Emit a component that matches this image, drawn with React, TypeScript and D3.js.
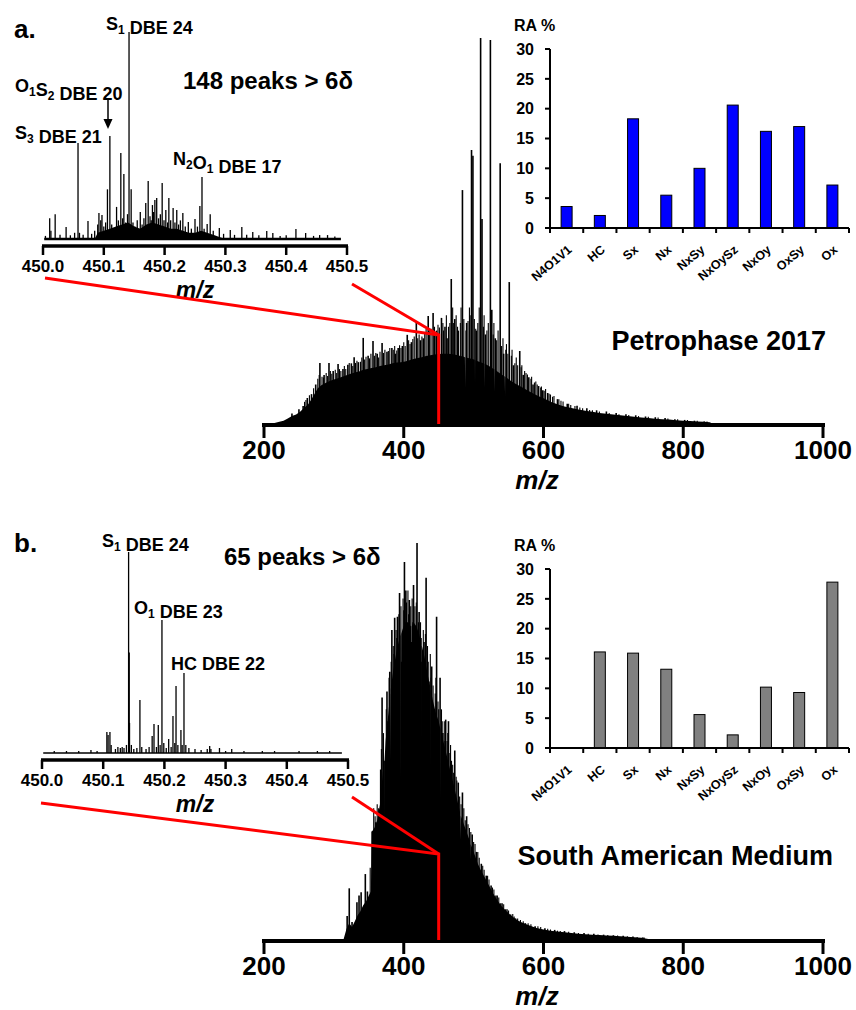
import React from 'react';
import * as d3 from 'd3';

const FONT = "'Liberation Sans', Arial, Helvetica, sans-serif";

// ---- compound-class bar charts (relative abundance, %) ----
const CLASSES = ['N4O1V1', 'HC', 'Sx', 'Nx', 'NxSy', 'NxOySz', 'NxOy', 'OxSy', 'Ox'];
const RA_PETROPHASE = [3.6, 2.1, 18.3, 5.5, 10.0, 20.6, 16.2, 17.0, 7.2];
const RA_SOUTH_AM = [0, 16.1, 15.9, 13.2, 5.6, 2.2, 10.2, 9.3, 27.8];
const RA_TICKS = [0, 5, 10, 15, 20, 25, 30];

// ---- axis ticks ----
const MZ_TICKS = [200, 400, 600, 800, 1000];
const NARROW_TICKS = [450.0, 450.1, 450.2, 450.3, 450.4, 450.5];

// ---- broadband spectrum, Petrophase 2017: [m/z, relative intensity] ----
const ENV_PETRO: [number, number][] = [
  [215, 0], [222, 0.3], [228, 0.6], [234, 1.2], [240, 1.8], [246, 2.2], [252, 3.0], [258, 4.0],
  [263, 4.8], [268, 6.2], [272, 7.5], [277, 9.0], [282, 9.8], [288, 10.4], [294, 10.9], [300, 11.3],
  [306, 11.6], [312, 12.0], [318, 12.4], [324, 12.8], [330, 13.1], [336, 13.4], [342, 13.8],
  [348, 14.0], [354, 14.3], [360, 14.5], [366, 14.8], [372, 15.0], [378, 15.2], [384, 15.5],
  [390, 15.7], [396, 15.8], [402, 16.0], [408, 16.3], [414, 16.6], [420, 16.9], [426, 17.1],
  [432, 17.4], [438, 17.6], [444, 17.8], [450, 17.9], [456, 18.0], [462, 18.0], [468, 17.9],
  [474, 17.7], [480, 17.5], [486, 17.2], [487.5, 17.1], [488, 9], [488.5, 17.0], [492, 16.9],
  [498, 16.6], [501.5, 16.4], [502, 10], [502.5, 16.3], [504, 16.2], [510, 15.8], [515.5, 15.4],
  [516, 9], [516.5, 15.3], [522, 14.8], [528, 14.1], [529.5, 14.0], [530, 8], [530.5, 13.9],
  [534, 13.4], [540, 12.6], [544.5, 12.1], [545, 7], [545.5, 12.0], [552, 11.1],
  [558, 10.4], [564, 9.8], [570, 9.2], [576, 8.6], [582, 8.0], [588, 7.4], [594, 6.9], [600, 6.4],
  [606, 5.9], [612, 5.4], [618, 5.0], [624, 4.6], [630, 4.3], [640, 3.9], [650, 3.5], [660, 3.2],
  [670, 2.9], [680, 2.6], [690, 2.4], [700, 2.2], [710, 2.0], [720, 1.8], [730, 1.6], [740, 1.4],
  [750, 1.3], [760, 1.1], [770, 1.0], [780, 0.9], [790, 0.7], [800, 0.6], [810, 0.5], [820, 0.4],
  [830, 0.3], [838, 0.2], [840, 0],
];
const PEAKS_PETRO: [number, number][] = [
  [240, 2.5], [250, 3.6], [256, 4.4], [262, 6.5], [268, 7.5], [274, 10], [280, 15.6], [286, 12.5],
  [293, 15.6], [299, 13.5], [306, 15.3], [313, 14], [320, 15.1], [325, 15.5], [329, 17.1], [335, 15.8],
  [342, 22.1], [349, 17.5], [356, 21.3], [362, 18], [369, 20.8], [376, 18.5], [383, 19.5], [388, 18],
  [392, 19.5], [398, 20], [405, 22.9], [411, 21], [418, 26.2], [424, 21.5], [428, 22], [435, 27.8],
  [442, 28.6], [447, 24], [454, 27.3], [459, 25], [462, 22], [468, 37.4], [473, 27], [478, 24],
  [484, 60.5], [490, 26], [497, 70.9], [499, 69.4], [504, 24], [510, 100], [512, 53], [517, 23],
  [524, 99.5], [526, 29.4], [531, 22], [538, 67.5], [543, 18], [551, 36.6], [557, 15], [566, 18.7],
  [571, 12.5], [579, 11.9], [585, 10], [593, 9.6], [599, 8.5], [606, 7.8], [620, 6.2], [634, 5],
  [648, 4.5], [662, 3.8], [676, 3.3], [690, 3], [704, 2.6], [718, 2.3], [732, 2], [746, 1.7],
  [760, 1.5], [774, 1.3], [788, 1.0], [802, 0.8], [816, 0.6], [830, 0.4],
];
// smaller peaks forming the ragged top of the Petrophase envelope
const MINOR_PETRO: [number, number][] = [
  [258, 5.5], [260, 6], [265, 7.2], [271, 9], [277, 11.5], [279, 12.5], [283, 12], [285, 11.8],
  [289, 13], [291, 12.2], [295, 13.5], [297, 12.8], [302, 13.8], [304, 13], [308, 14], [310, 13.5],
  [315, 14.8], [317, 14], [322, 15.6], [327, 14.8], [331, 15.6], [333, 16.2], [338, 15.9], [340, 17],
  [344, 16.5], [346, 17.2], [351, 16.8], [353, 18], [358, 17.5], [360, 18.2], [364, 17], [366, 18.5],
  [371, 18.2], [373, 19], [378, 18.7], [380, 19.5], [385, 19], [387, 20], [390, 18.8], [394, 20.2],
  [396, 19.5], [400, 21], [402, 20], [407, 21.5], [409, 20.5], [413, 21.8], [415, 22.5], [420, 22],
  [422, 23], [426, 22.5], [430, 23.5], [432, 24.5], [437, 23.8], [439, 24.5], [444, 25], [446, 23.5],
  [449, 25.5], [451, 24.8], [456, 26], [457, 24], [461, 28], [464, 25], [466, 26], [470, 30],
  [471, 26], [475, 28], [477, 25], [481, 26], [482, 30], [486, 27], [489, 24], [492, 26.5],
  [494, 30], [495, 28], [501, 27], [503, 24.5], [506, 26], [508, 30], [514, 25], [515, 28],
  [519, 24], [521, 26], [528, 23], [529, 26], [533, 21.5], [535, 24], [540, 20], [542, 22],
  [546, 19], [547, 20.5], [549, 18], [554, 17.5], [555, 19], [559, 15.5], [561, 17], [563, 15],
  [568, 14.5], [569, 15], [573, 13.5], [575, 13], [577, 12.6], [582, 11.5], [583, 12], [587, 10.5],
  [589, 10.8], [591, 10], [596, 9.2], [597, 9.5], [601, 8.4], [603, 8.8], [608, 7.6], [610, 7.4],
  [613, 6.8], [615, 7], [622, 6.2], [625, 5.8], [628, 5.6], [636, 5], [639, 4.7], [645, 4.4],
  [652, 4], [656, 3.8], [666, 3.4], [670, 3.3], [680, 3], [694, 2.6], [708, 2.3], [722, 2.1],
  [736, 1.8], [750, 1.6], [764, 1.4], [778, 1.2], [792, 1.0], [806, 0.8], [820, 0.6], [834, 0.4],
];

// ---- broadband spectrum, South American Medium ----
const ENV_SOUTH_AM: [number, number][] = [
  [314, 0], [318, 2.5], [322, 4], [326, 3], [330, 4.5], [334, 6], [338, 7], [342, 8.5], [346, 9.5],
  [350, 11], [353, 12], [354, 27], [358, 28], [362, 30], [366, 34], [370, 42], [371.5, 44], [372, 30],
  [372.5, 45], [374, 50], [378, 57], [380.5, 62], [381, 45], [381.5, 63], [382, 64], [386, 69],
  [390, 73], [394, 76], [395.5, 77], [396, 40], [396.5, 77], [398, 78], [402, 80], [406, 80],
  [410, 79], [410.5, 79], [411, 50], [411.5, 79], [414, 80], [418, 79], [422, 77], [424.5, 75],
  [425, 45], [425.5, 74], [426, 74], [430, 71], [434, 67], [437.5, 64], [438, 40], [438.5, 63],
  [442, 60], [446, 57], [450, 55], [452.5, 53], [453, 35], [453.5, 52], [454, 52], [458, 49],
  [462, 46], [466, 43], [466.5, 42], [467, 28], [467.5, 42], [470, 40], [474, 37], [478, 34],
  [480.5, 32], [481, 25], [481.5, 31], [482, 31], [486, 29], [490, 27], [494, 25], [494.5, 25],
  [495, 20], [495.5, 24], [498, 23], [502, 21], [506, 19], [510, 17.5], [516, 15.5], [522, 13.5],
  [528, 11.5], [534, 9.8], [540, 8.3], [546, 7.2], [552, 6.2], [558, 5.3], [564, 4.6], [570, 4.1],
  [580, 3.4], [590, 2.8], [600, 2.4], [610, 2.1], [620, 1.9], [630, 1.7], [640, 1.5], [650, 1.35],
  [660, 1.2], [670, 1.1], [680, 1.0], [690, 0.9], [700, 0.8], [710, 0.7], [720, 0.55], [730, 0.45],
  [740, 0.3], [746, 0.15], [750, 0],
];
const PEAKS_SOUTH_AM: [number, number][] = [
  [319, 5.8], [322, 12.8], [326, 4.3], [333, 9.3], [336, 11], [339, 11.8], [345, 16.4], [348, 12],
  [355, 27.2], [360, 29.5], [365, 29.7], [367, 42.8], [369, 61], [373, 45], [376, 62.5], [380, 67.5],
  [383, 78], [387, 81.1], [391, 81.4], [394, 87.4], [397, 70], [401, 95.2], [403, 88], [408, 85.6],
  [411, 75], [414, 89.4], [417, 72], [419, 100], [422, 82.6], [426, 70], [429, 75], [432, 91.2],
  [436, 65], [440, 68.8], [443, 58], [447, 81.4], [452, 66], [456, 52], [460, 55.4], [464, 55],
  [468, 45], [473, 47.6], [478, 39.5], [484, 37], [490, 31], [498, 26.4], [504, 22], [511, 19],
  [518, 16], [525, 13.5], [532, 11], [539, 9], [546, 7.5], [553, 6.2], [560, 5.2], [574, 4],
  [588, 3.2], [602, 2.7], [616, 2.3], [630, 2], [644, 1.7], [658, 1.5], [672, 1.3], [686, 1.1],
  [700, 0.95], [714, 0.8], [728, 0.6], [742, 0.4],
];
// smaller peaks forming the ragged top of the South American Medium envelope
const MINOR_SOUTH_AM: [number, number][] = [
  [352, 18], [357, 33], [359, 31], [362, 34], [364, 33], [368, 48], [371, 52], [375, 58], [377, 55],
  [379, 66], [382, 70], [385, 74], [386, 72], [389, 78], [390, 76], [393, 82], [396, 84], [399, 86],
  [400, 83], [404, 85], [406, 88], [407, 82], [410, 84], [412, 86], [413, 80], [416, 84], [418, 85],
  [421, 80], [424, 80], [425, 76], [428, 78], [431, 77], [434, 74], [435, 70], [438, 72], [439, 66],
  [442, 64], [445, 62], [446, 66], [449, 60], [450, 58], [454, 58], [455, 55], [458, 55], [459, 50],
  [462, 50], [463, 52], [466, 47], [467, 49], [470, 44], [471, 42], [475, 41], [476, 40], [480, 36],
  [482, 34], [486, 33], [488, 30], [492, 29], [494, 28], [496, 27], [500, 24.5], [502, 24], [506, 22],
  [508, 20.5], [513, 18.5], [515, 17.5], [520, 16], [522, 15], [527, 13], [529, 12.5], [534, 11],
  [536, 10.5], [541, 9], [543, 8.8], [548, 7.5], [550, 7.2], [556, 6.3], [558, 5.7], [563, 5.2],
  [567, 4.8], [571, 4.5], [578, 4], [582, 3.7], [592, 3.2], [596, 3], [606, 2.6], [610, 2.4],
  [620, 2.1], [624, 2], [636, 1.8], [650, 1.5], [664, 1.3], [678, 1.15], [692, 1.0], [706, 0.9],
  [720, 0.7], [734, 0.5], [744, 0.35],
];

// ---- narrow window m/z 450.0-450.5, Petrophase 2017 ----
const NARROW_PETRO: [number, number][] = [
  [450.004, 1.5], [450.011, 10], [450.013, 4], [450.020, 12], [450.028, 2], [450.038, 5.8],
  [450.045, 1.8], [450.052, 3], [450.0576, 46.4], [450.060, 3], [450.066, 2], [450.074, 8.7],
  [450.080, 2.5], [450.085, 4], [450.090, 7], [450.092, 12.6], [450.095, 9], [450.097, 11.6],
  [450.100, 6], [450.103, 8], [450.106, 24], [450.110, 49.8], [450.113, 7], [450.117, 5],
  [450.121, 15.5], [450.124, 9], [450.128, 41.5], [450.131, 10], [450.133, 31.4], [450.136, 8],
  [450.139, 12], [450.1415, 100], [450.145, 24], [450.148, 8], [450.151, 6], [450.155, 9],
  [450.160, 13], [450.163, 7], [450.166, 10], [450.169, 17.4], [450.173, 28], [450.176, 11],
  [450.178, 9], [450.180, 16.4], [450.182, 13], [450.184, 18.8], [450.187, 19.8], [450.190, 10],
  [450.193, 12], [450.196, 27], [450.199, 9], [450.202, 14], [450.205, 8], [450.207, 19.8],
  [450.210, 9], [450.214, 15], [450.217, 8], [450.220, 14], [450.223, 7], [450.226, 9],
  [450.230, 12.6], [450.234, 6], [450.239, 8.2], [450.244, 5], [450.250, 9.7], [450.254, 6],
  [450.258, 16], [450.2615, 30], [450.265, 5], [450.270, 7.2], [450.275, 12], [450.280, 4],
  [450.290, 5.3], [450.297, 2.5], [450.308, 4.3], [450.315, 2], [450.327, 5.8], [450.335, 2],
  [450.345, 3.4], [450.355, 1.8], [450.368, 3.9], [450.378, 2.9], [450.390, 1.5], [450.400, 1.8],
  [450.416, 4.8], [450.432, 2.9], [450.445, 1.5], [450.455, 1.9], [450.468, 1.9], [450.480, 1.2],
];
const NARROW_PETRO_FILL: [number, number][] = [
  [450.085, 0], [450.09, 3], [450.10, 4], [450.11, 5], [450.12, 6], [450.13, 7], [450.14, 8],
  [450.15, 6], [450.16, 5], [450.17, 7], [450.18, 8], [450.19, 7], [450.20, 6], [450.21, 5],
  [450.22, 5], [450.23, 4], [450.24, 3], [450.25, 3], [450.26, 4], [450.27, 3], [450.28, 2],
  [450.29, 1], [450.30, 0],
];

// ---- narrow window m/z 450.0-450.5, South American Medium ----
const NARROW_SOUTH_AM: [number, number][] = [
  [450.02, 1], [450.04, 1], [450.06, 1], [450.08, 1.5], [450.09, 1],
  [450.106, 10.4], [450.108, 9], [450.111, 10.4], [450.113, 4], [450.120, 2], [450.124, 3],
  [450.128, 2.5], [450.131, 3], [450.134, 2.5], [450.138, 4], [450.1415, 100], [450.1425, 50],
  [450.143, 15], [450.146, 4], [450.150, 2], [450.155, 2.5], [450.160, 26.4], [450.163, 3],
  [450.170, 2], [450.175, 3], [450.180, 8.5], [450.183, 14.4], [450.187, 3], [450.190, 13.9],
  [450.193, 4], [450.196, 66.2], [450.199, 5], [450.203, 2.5], [450.207, 7], [450.211, 3],
  [450.214, 18.4], [450.217, 5], [450.219, 33.3], [450.222, 4], [450.227, 11.4], [450.229, 4],
  [450.232, 39.8], [450.235, 4], [450.240, 2.5], [450.250, 2], [450.260, 1.5], [450.270, 2],
  [450.274, 3.5], [450.276, 2], [450.290, 2.5], [450.300, 1], [450.310, 2], [450.330, 1],
  [450.360, 1], [450.380, 1], [450.420, 1], [450.450, 1], [450.470, 1],
];

type Pt = [number, number];

function Sub({ main, sub }: { main: string; sub: string }) {
  return (
    <>
      <tspan>{main}</tspan>
      <tspan dy={4} fontSize={12}>{sub}</tspan>
      <tspan dy={-4}></tspan>
    </>
  );
}

function Broadband({ env, peaks, minor, base, top, axisY }: { env: Pt[]; peaks: Pt[]; minor: Pt[]; base: number; top: number; axisY: number }) {
  const x = d3.scaleLinear().domain([200, 1000]).range([264, 823]);
  const y = d3.scaleLinear().domain([0, 100]).range([base, top]);
  const area = d3.area<Pt>().x(d => x(d[0])).y0(base).y1(d => y(d[1]));
  return (
    <g>
      <path d={area(env) || ''} fill="#000" />
      {minor.map((p, i) => (
        <line key={'m' + i} x1={x(p[0])} x2={x(p[0])} y1={base} y2={y(p[1])} stroke="#000" strokeWidth={1.1} />
      ))}
      {peaks.map((p, i) => (
        <line key={i} x1={x(p[0])} x2={x(p[0])} y1={base} y2={y(p[1])} stroke="#000" strokeWidth={1.6} />
      ))}
      <line x1={262} x2={825} y1={axisY} y2={axisY} stroke="#000" strokeWidth={4} />
      {MZ_TICKS.map(t => (
        <g key={t}>
          <line x1={x(t)} x2={x(t)} y1={axisY} y2={axisY + 13} stroke="#000" strokeWidth={3} />
          <text x={x(t)} y={axisY + 34} textAnchor="middle" fontSize={26} fontWeight="bold" fontFamily={FONT}>{t}</text>
        </g>
      ))}
      <text x={537} y={axisY + 64} textAnchor="middle" fontSize={26} fontWeight="bold" fontStyle="italic" fontFamily={FONT}>m/z</text>
    </g>
  );
}

function Narrow({ peaks, fill, base, top, axisY, x0, x1, noiseWidth }: { peaks: Pt[]; fill?: Pt[]; base: number; top: number; axisY: number; x0: number; x1: number; noiseWidth: number }) {
  const x = d3.scaleLinear().domain([450.0, 450.5]).range([x0, x1]);
  const y = d3.scaleLinear().domain([0, 100]).range([base, top]);
  const area = d3.area<Pt>().x(d => x(d[0])).y0(base).y1(d => y(d[1]));
  return (
    <g>
      {fill && <path d={area(fill) || ''} fill="#000" />}
      <line x1={x(450.002)} x2={x(450.49)} y1={base} y2={base} stroke="#000" strokeWidth={noiseWidth} />
      {peaks.map((p, i) => (
        <line key={i} x1={x(p[0])} x2={x(p[0])} y1={base} y2={y(p[1])} stroke="#000" strokeWidth={1.3} />
      ))}
      <line x1={x0 - 1} x2={x1 + 1} y1={axisY} y2={axisY} stroke="#000" strokeWidth={3.5} />
      {NARROW_TICKS.map(t => (
        <g key={t}>
          <line x1={x(t)} x2={x(t)} y1={axisY} y2={axisY + 9} stroke="#000" strokeWidth={2.5} />
          <text x={x(t)} y={axisY + 26} textAnchor="middle" fontSize={17} fontWeight="bold" fontFamily={FONT}>{t.toFixed(1)}</text>
        </g>
      ))}
      <text x={195} y={axisY + 52} textAnchor="middle" fontSize={23} fontWeight="bold" fontStyle="italic" fontFamily={FONT}>m/z</text>
    </g>
  );
}

function ClassBars({ values, axisY, color }: { values: number[]; axisY: number; color: string }) {
  const x = d3.scaleBand<string>().domain(CLASSES).range([550, 849]).padding(0);
  const y = d3.scaleLinear().domain([0, 30]).range([axisY, axisY - 179]);
  const bw = 11;
  return (
    <g fontFamily={FONT} fontWeight="bold">
      {CLASSES.map((c, i) => {
        const cx = (x(c) as number) + x.bandwidth() / 2;
        return values[i] > 0 ? (
          <rect key={c} x={cx - bw / 2} y={y(values[i])} width={bw} height={axisY - y(values[i])} fill={color} stroke="#000" strokeWidth={1} />
        ) : null;
      })}
      <line x1={550} x2={550} y1={y(30)} y2={axisY} stroke="#000" strokeWidth={2} />
      <line x1={550} x2={849} y1={axisY} y2={axisY} stroke="#000" strokeWidth={2} />
      {RA_TICKS.map(t => (
        <g key={t}>
          <line x1={545} x2={550} y1={y(t)} y2={y(t)} stroke="#000" strokeWidth={2} />
          <text x={534} y={y(t)} dy="0.36em" textAnchor="end" fontSize={16}>{t}</text>
        </g>
      ))}
      {CLASSES.map((c, i) => (
        <line key={'t' + i} x1={(x(c) as number)} x2={(x(c) as number)} y1={axisY} y2={axisY + 5} stroke="#000" strokeWidth={2} />
      ))}
      <line x1={849} x2={849} y1={axisY} y2={axisY + 5} stroke="#000" strokeWidth={2} />
      {CLASSES.map(c => {
        const cx = (x(c) as number) + x.bandwidth() / 2;
        return (
          <text key={'l' + c} x={0} y={0} transform={`translate(${cx + 6},${axisY + 23}) rotate(-40)`} textAnchor="end" fontSize={12.5}>{c}</text>
        );
      })}
      <text x={514} y={y(30) - 18} fontSize={16}>RA %</text>
    </g>
  );
}

export default function App() {
  const mainX = d3.scaleLinear().domain([200, 1000]).range([264, 823]);
  const jx = mainX(450);
  const tf = { fontFamily: FONT, fontWeight: 'bold' as const };
  return (
    <svg width={856} height={1010} style={{ position: 'absolute', left: 0, top: 0, background: '#fff' }}>
      {/* ---------- panel a ---------- */}
      <Broadband env={ENV_PETRO} peaks={PEAKS_PETRO} minor={MINOR_PETRO} base={423} top={38} axisY={425} />
      <Narrow peaks={NARROW_PETRO} fill={NARROW_PETRO_FILL} base={239} top={32} axisY={246} x0={43} x1={347} noiseWidth={2.4} />
      <ClassBars values={RA_PETROPHASE} axisY={228} color="#0000ff" />
      <g stroke="#ff0000" strokeWidth={3} fill="none">
        <polyline points={`45,278 ${jx},335 ${jx},424`} />
        <line x1={352} y1={284} x2={jx} y2={335} />
      </g>
      <g {...tf} fill="#000">
        <text x={14} y={38} fontSize={26}>a.</text>
        <text x={106} y={30} fontSize={18}><Sub main="S" sub="1" /> DBE 24</text>
        <text x={183} y={89} fontSize={24}>148 peaks &gt; 6δ</text>
        <text x={15} y={92} fontSize={18}><Sub main="O" sub="1" /><Sub main="S" sub="2" /> DBE 20</text>
        <text x={15} y={139} fontSize={18}><Sub main="S" sub="3" /> DBE 21</text>
        <text x={173} y={165} fontSize={18}><Sub main="N" sub="2" /><Sub main="O" sub="1" /> DBE 17</text>
        <text x={826} y={350} fontSize={27} textAnchor="end">Petrophase 2017</text>
      </g>
      <line x1={108} x2={108} y1={98} y2={121} stroke="#000" strokeWidth={1.5} />
      <polygon points="103.5,119 112.5,119 108,129" fill="#000" />

      {/* ---------- panel b ---------- */}
      <Broadband env={ENV_SOUTH_AM} peaks={PEAKS_SOUTH_AM} minor={MINOR_SOUTH_AM} base={939} top={543} axisY={941} />
      <Narrow peaks={NARROW_SOUTH_AM} base={753} top={552} axisY={760} x0={42} x1={348} noiseWidth={1.6} />
      <ClassBars values={RA_SOUTH_AM} axisY={748} color="#808080" />
      <g stroke="#ff0000" strokeWidth={3} fill="none">
        <polyline points={`41,803 ${jx},854 ${jx},940`} />
        <line x1={352} y1={797} x2={jx} y2={854} />
      </g>
      <g {...tf} fill="#000">
        <text x={14} y={552} fontSize={26}>b.</text>
        <text x={102} y={547} fontSize={18}><Sub main="S" sub="1" /> DBE 24</text>
        <text x={224} y={565} fontSize={24}>65 peaks &gt; 6δ</text>
        <text x={134} y={614} fontSize={18}><Sub main="O" sub="1" /> DBE 23</text>
        <text x={171} y={670} fontSize={18}>HC DBE 22</text>
        <text x={833} y={865} fontSize={27} textAnchor="end">South American Medium</text>
      </g>
    </svg>
  );
}
